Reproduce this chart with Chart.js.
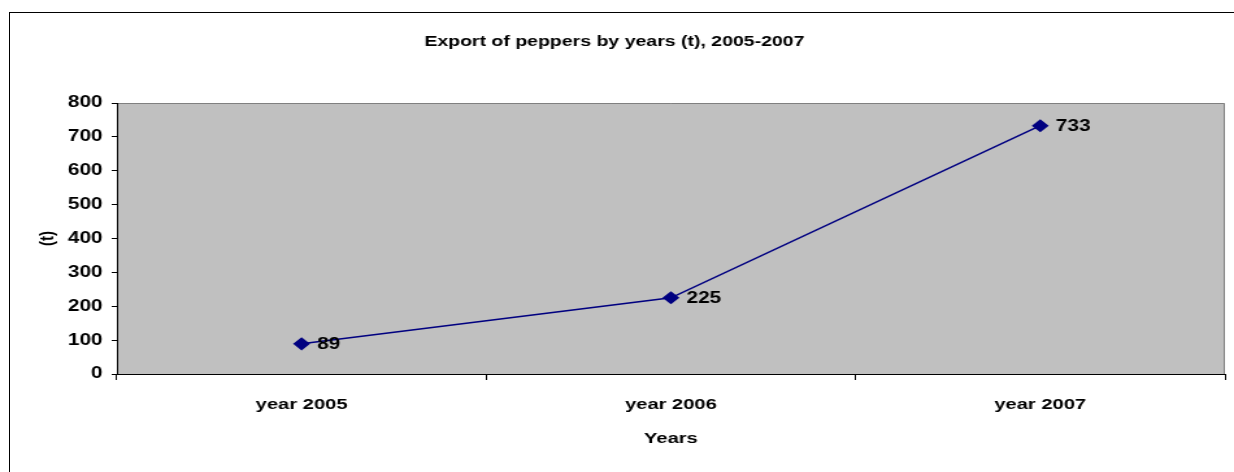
<!DOCTYPE html>
<html>
<head>
<meta charset="utf-8">
<script src="https://cdn.jsdelivr.net/npm/chart.js@4/dist/chart.umd.min.js"></script>
<style>
  html, body { margin: 0; padding: 0; background: #fff; overflow: hidden; }
  /* the reference is stretched sideways, so draw narrower and stretch */
  #chart { position: absolute; left: 0; top: 0;
           transform: scaleX(1.29895); transform-origin: 0 0; }
  #frame { position: absolute; left: 9px; top: 12px; width: 1300px; height: 500px;
           border-left: 1px solid #000; border-top: 1px solid #000; pointer-events: none; }
</style>
</head>
<body>
<canvas id="chart" width="950" height="472"></canvas>
<div id="frame"></div>
<script>
const categories = ["year 2005", "year 2006", "year 2007"];
const exportTonnes = [89, 225, 733];
const yTicks = [0, 100, 200, 300, 400, 500, 600, 700, 800];

const FONT = "'Liberation Sans', Arial, sans-serif";

// gray plot area with gray top/right edge
const plotBg = {
  id: "plotBg",
  beforeDraw(chart) {
    const { ctx, chartArea: a } = chart;
    ctx.save();
    ctx.fillStyle = "#c0c0c0";
    ctx.fillRect(a.left, a.top, a.right - a.left, a.bottom - a.top);
    ctx.strokeStyle = "#808080";
    ctx.lineWidth = 1;
    ctx.beginPath();
    ctx.moveTo(a.left, a.top + 0.5);
    ctx.lineTo(a.right - 0.5, a.top + 0.5);
    ctx.lineTo(a.right - 0.5, a.bottom);
    ctx.stroke();
    ctx.restore();
  }
};

// value labels to the right of each point
const valueLabels = {
  id: "valueLabels",
  afterDatasetsDraw(chart) {
    const { ctx } = chart;
    const meta = chart.getDatasetMeta(0);
    ctx.save();
    ctx.font = "bold 16px " + FONT;
    ctx.fillStyle = "#000";
    ctx.textAlign = "left";
    ctx.textBaseline = "middle";
    meta.data.forEach((pt, i) => {
      ctx.fillText(String(exportTonnes[i]), pt.x + 12, pt.y + 1);
    });
    ctx.restore();
  }
};

new Chart(document.getElementById("chart"), {
  type: "line",
  data: {
    labels: categories,
    datasets: [{
      label: "Export",
      data: exportTonnes,
      borderColor: "#000080",
      backgroundColor: "#000080",
      borderWidth: 1.5,
      pointStyle: "rectRot",
      pointRadius: 5.5,
      pointHoverRadius: 5.5,
      tension: 0,
      fill: false
    }]
  },
  options: {
    responsive: false,
    animation: false,
    events: [],
    layout: { padding: { left: 0, right: 4, top: 0, bottom: 0 } },
    plugins: {
      legend: { display: false },
      tooltip: { enabled: false },
      title: {
        display: true,
        text: "Export of peppers by years (t), 2005-2007",
        color: "#000",
        font: { family: FONT, size: 15, weight: "bold", lineHeight: 1.2 },
        padding: { top: 33, bottom: 52 }
      }
    },
    scales: {
      x: {
        type: "category",
        offset: true,
        grid: {
          offset: true,
          drawOnChartArea: false,
          drawTicks: true,
          tickLength: 6,
          color: "#000"
        },
        border: { display: true, color: "#000", width: 1 },
        ticks: {
          color: "#000",
          padding: 15,
          maxRotation: 0,
          font: { family: FONT, size: 15.5, weight: "bold" }
        },
        title: {
          display: true,
          text: "Years",
          color: "#000",
          font: { family: FONT, size: 15.5, weight: "bold", lineHeight: 1.2 },
          padding: { top: 0, bottom: 24 }
        },
        afterFit(scale) { scale.height = 98; }
      },
      y: {
        min: 0,
        max: 800,
        afterBuildTicks(scale) { scale.ticks = yTicks.map(v => ({ value: v })); },
        grid: {
          drawOnChartArea: false,
          drawTicks: true,
          tickLength: 4,
          color: "#000"
        },
        border: { display: true, color: "#000", width: 1 },
        ticks: {
          color: "#000",
          padding: 7,
          font: { family: FONT, size: 16, weight: "bold" }
        },
        title: {
          display: true,
          text: "(t)",
          color: "#000",
          font: { family: FONT, size: 15, weight: "bold", lineHeight: 1.2 },
          padding: { top: 28, bottom: 0 }
        },
        afterFit(scale) { scale.width = 90; }
      }
    }
  },
  plugins: [plotBg, valueLabels]
});
</script>
</body>
</html>
